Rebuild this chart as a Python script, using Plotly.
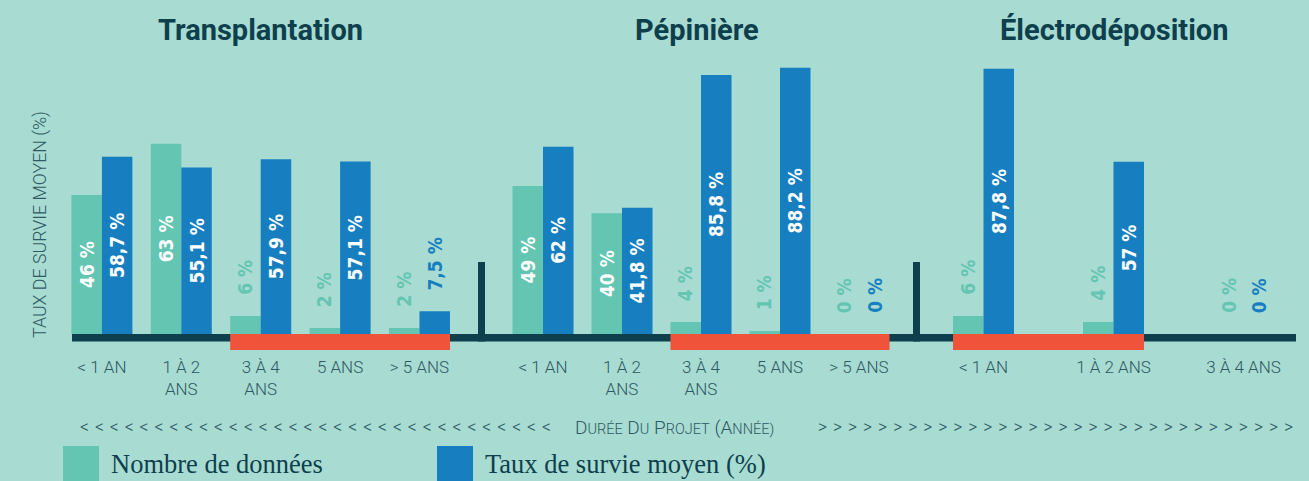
import plotly.graph_objects as go

# ---- data -------------------------------------------------------------
groupes = ["Transplantation", "Pépinière", "Électrodéposition"]

cat_transplantation = ["< 1 AN", "1 À 2<br>ANS", "3 À 4<br>ANS", "5 ANS", "> 5 ANS"]
cat_pepiniere = ["< 1 AN", "1 À 2<br>ANS", "3 À 4<br>ANS", "5 ANS", "> 5 ANS"]
cat_electro = ["< 1 AN", "1 À 2 ANS", "3 À 4 ANS"]

nombre_transplantation = [46, 63, 6, 2, 2]
taux_transplantation = [58.7, 55.1, 57.9, 57.1, 7.5]

nombre_pepiniere = [49, 40, 4, 1, 0]
taux_pepiniere = [62, 41.8, 85.8, 88.2, 0]

nombre_electro = [6, 4, 0]
taux_electro = [87.8, 57, 0]

# categories underlined in red (first, last) for each group
surlignage = [("3 À 4<br>ANS", "> 5 ANS"), ("3 À 4<br>ANS", "> 5 ANS"), ("< 1 AN", "1 À 2 ANS")]

noms_series = ["Nombre de données", "Taux de survie moyen (%)"]

# ---- style ------------------------------------------------------------
BG = "#A8DBD1"
GREEN = "#63C5B2"
BLUE = "#177FC0"
DARK = "#0E3F4D"
RED = "#EF533A"
TICK = "#2E5A63"
W = 1309
H = 481

COND = "DejaVu Sans Condensed, Liberation Sans Narrow, sans-serif"

# horizontal placement of the three panels (pixels)
domaines_px = [(62.2, 459.2), (503.5, 898.5), (918.5, 1308.5)]
titre_x_px = [260.7, 697, 1113.5]
bar_px = 30.5

# vertical scale: 0 at y=334 px, 3.02 px per %
Y0_PX = 334.0
PX_PER = 3.02
y_min, y_max = -7, 100
y_bot_px = Y0_PX - y_min * PX_PER
y_top_px = Y0_PX - y_max * PX_PER
y_domain = [(H - y_bot_px) / H, (H - y_top_px) / H]


def fmt(v):
    if float(v).is_integer():
        return f"{int(v)} %"
    return f"{v:.1f}".replace(".", ",") + " %"


fig = go.Figure()

panels = [
    (cat_transplantation, nombre_transplantation, taux_transplantation),
    (cat_pepiniere, nombre_pepiniere, taux_pepiniere),
    (cat_electro, nombre_electro, taux_electro),
]

annotations = []
shapes = []
INSIDE_MIN = 20

for k, (cats, nombre, taux) in enumerate(panels):
    sfx = "" if k == 0 else str(k + 1)
    xa, ya = "x" + sfx, "y" + sfx
    d0, d1 = domaines_px[k]
    n = len(cats)
    step = (d1 - d0) / n
    w = bar_px / step

    for j, (vals, color, off) in enumerate([(nombre, GREEN, -w), (taux, BLUE, 0.0)]):
        fig.add_trace(go.Bar(
            x=cats, y=vals, xaxis=xa, yaxis=ya,
            name=noms_series[j], showlegend=False,
            marker=dict(color=color, line=dict(width=0)),
            width=w, offset=off,
            text=[fmt(v) if v >= INSIDE_MIN else "" for v in vals],
            textposition="inside", insidetextanchor="middle", textangle=-90,
            insidetextfont=dict(family=COND, size=19, color="white", weight="bold"),
            hoverinfo="skip",
        ))
        # small values get their label above the bar, in the bar colour
        for i, v in enumerate(vals):
            if v < INSIDE_MIN:
                annotations.append(dict(
                    x=i + off + w / 2, y=v, xref=xa, yref=ya,
                    text=fmt(v), showarrow=False, textangle=-90,
                    xanchor="center", yanchor="bottom", yshift=19,
                    font=dict(family=COND, size=19, color=color, weight="bold"),
                ))

    # red underline below the highlighted categories
    a, b = surlignage[k]
    ia, ib = cats.index(a), cats.index(b)
    shapes.append(dict(type="rect", xref=xa, yref=ya, x0=ia - w, x1=ib + w,
                       y0=-5.3, y1=0, fillcolor=RED, line=dict(width=0), layer="above"))

    fig.layout["xaxis" + sfx] = dict(
        domain=[d0 / W, d1 / W], anchor=ya, type="category",
        range=[-0.5, n - 0.5], showgrid=False, zeroline=False, showline=False,
        ticks="", fixedrange=True,
        tickfont=dict(family="Roboto", size=17, color=TICK, weight=300),
    )
    fig.layout["yaxis" + sfx] = dict(
        domain=y_domain, anchor=xa, range=[y_min, y_max],
        showgrid=False, zeroline=False, showline=False, showticklabels=False,
        fixedrange=True,
    )

    # panel title
    annotations.append(dict(
        x=titre_x_px[k] / W, y=(H - 30) / H, xref="paper", yref="paper",
        text=f"<b>{groupes[k]}</b>", showarrow=False, xanchor="center", yanchor="middle",
        font=dict(family="Roboto", size=29, color=DARK),
    ))

# dark baseline across the whole chart (drawn under the red underlines)
shapes.insert(0, dict(type="rect", xref="paper", yref="y", x0=72 / W, x1=1296 / W,
                      y0=-2.5, y1=0, fillcolor=DARK, line=dict(width=0), layer="above"))
# separators between panels
for xp in (481.5, 916.5):
    shapes.insert(1, dict(type="line", xref="paper", yref="y", x0=xp / W, x1=xp / W,
                          y0=-2.5, y1=23.8, line=dict(color=DARK, width=7), layer="above"))

# y-axis title
annotations.append(dict(
    x=40 / W, y=(H - 225) / H, xref="paper", yref="paper",
    text="TAUX DE SURVIE MOYEN (%)", showarrow=False, textangle=-90,
    xanchor="center", yanchor="middle",
    font=dict(family="Roboto", size=17.8, color=TICK, weight=300),
))

# x-axis title with chevrons
y_axis_title = (H - 427) / H
chev_l = "\u2004".join(["<"] * 32)
chev_r = "\u2004".join([">"] * 32)
annotations.append(dict(x=553 / W, y=y_axis_title, xref="paper", yref="paper", text=chev_l,
                        showarrow=False, xanchor="right", yanchor="middle",
                        font=dict(family="Roboto", size=17.5, color=TICK, weight=300)))
annotations.append(dict(x=816 / W, y=y_axis_title, xref="paper", yref="paper", text=chev_r,
                        showarrow=False, xanchor="left", yanchor="middle",
                        font=dict(family="Roboto", size=17.5, color=TICK, weight=300)))


def small_caps(s, big=19, small=14.5):
    out = []
    for word in s.split(" "):
        head, tail = word[0], word[1:]
        if head == "(":
            head, tail = word[:2], word[2:]
        out.append(f"<span style='font-size:{big}px'>{head}</span>"
                   f"<span style='font-size:{small}px'>{tail}</span>")
    return " ".join(out)


annotations.append(dict(x=573 / W, y=y_axis_title, xref="paper", yref="paper",
                        text=small_caps("DURÉE DU PROJET (ANNÉE)"),
                        showarrow=False, xanchor="left", yanchor="middle",
                        font=dict(family="Roboto", size=19, color=TICK, weight=300)))

# legend
for (x0, x1, col, label) in [(63, 99, GREEN, noms_series[0]), (437, 473, BLUE, noms_series[1])]:
    shapes.append(dict(type="rect", xref="paper", yref="paper", x0=x0 / W, x1=x1 / W,
                       y0=-0.02, y1=(H - 446) / H, fillcolor=col, line=dict(width=0)))
    annotations.append(dict(x=(x1 + 10) / W, y=(H - 464) / H, xref="paper", yref="paper",
                            text=label, showarrow=False, xanchor="left", yanchor="middle",
                            font=dict(family="Liberation Serif, serif", size=26.5, color=DARK)))

fig.update_layout(
    width=W, height=H, margin=dict(l=0, r=0, t=0, b=0),
    paper_bgcolor=BG, plot_bgcolor=BG,
    barmode="overlay", showlegend=False,
    shapes=shapes, annotations=annotations,
    uniformtext=dict(minsize=8),
)

fig.write_html("out.html")
